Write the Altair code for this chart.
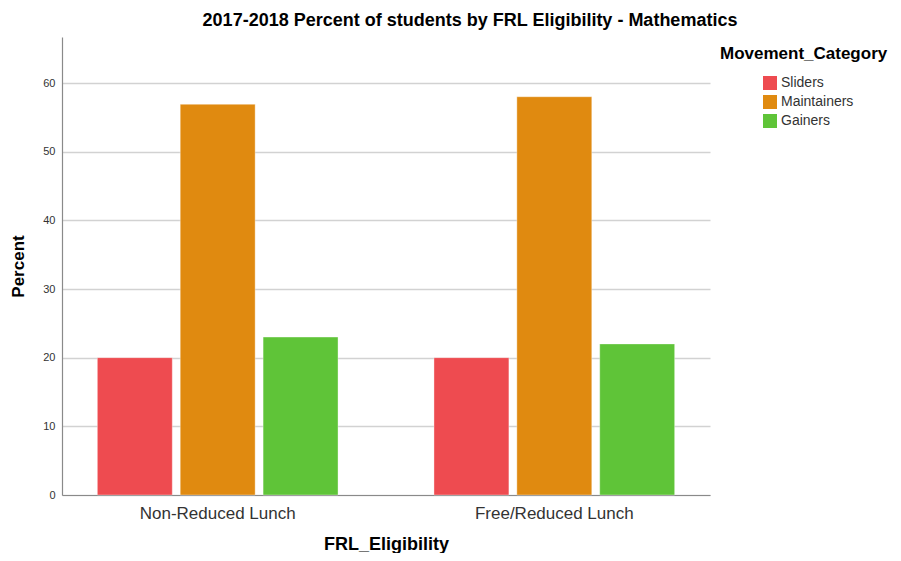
import altair as alt
import pandas as pd

groups = ["Non-Reduced Lunch", "Free/Reduced Lunch"]
series = ["Sliders", "Maintainers", "Gainers"]
non_reduced = [20.0, 56.9, 23.0]
free_reduced = [20.0, 58.0, 22.0]
colors = ["#EE4B50", "#E08A10", "#5FC438"]

rows = []
for g, vals in zip(groups, [non_reduced, free_reduced]):
    for s, v in zip(series, vals):
        rows.append({"FRL_Eligibility": g, "Movement_Category": s, "Percent": v})
df = pd.DataFrame(rows)

FONT = "Liberation Sans"

bars = alt.Chart(df).mark_bar(stroke="#ffffff", strokeWidth=0.6, strokeOpacity=0.6).encode(
    x=alt.X("FRL_Eligibility:N", sort=groups,
            scale=alt.Scale(paddingInner=0.285, paddingOuter=0.105),
            axis=alt.Axis(title="FRL_Eligibility", labelAngle=0, labelFontSize=17,
                          labelColor="#333333", labelPadding=10, ticks=False,
                          domainColor="#8a8a8a", domainWidth=1.2,
                          titleFontSize=18, titleFontWeight="bold", titlePadding=14,
                          titleColor="#000000")),
    xOffset=alt.XOffset("Movement_Category:N", sort=series,
                        scale=alt.Scale(paddingInner=0.096, paddingOuter=0)),
    y=alt.Y("Percent:Q",
            scale=alt.Scale(domain=[0, 66.7], nice=False, zero=True),
            axis=alt.Axis(title="Percent", values=[0, 10, 20, 30, 40, 50, 60],
                          labelFontSize=11, labelColor="#333333", labelPadding=7,
                          ticks=False, grid=True, gridColor="#d2d2d2", gridWidth=1.5,
                          domainColor="#8a8a8a", domainWidth=1.2,
                          titleFontSize=17, titleFontWeight="bold", titlePadding=15,
                          titleColor="#000000")),
    color=alt.Color("Movement_Category:N", sort=series,
                    scale=alt.Scale(domain=series, range=colors),
                    legend=alt.Legend(title="Movement_Category", orient="none",
                                      legendX=658, legendY=9,
                                      titleFontSize=17, titleFontWeight="bold",
                                      titleColor="#000000", titlePadding=13,
                                      labelFontSize=14, labelColor="#333333",
                                      symbolType="square", symbolSize=196,
                                      symbolStrokeWidth=0, symbolOffset=43,
                                      rowPadding=5, labelOffset=4)),
)

chart = bars.properties(
    width=648,
    height=458,
    padding={"left": 54, "top": 29, "right": 183, "bottom": 58},
    autosize=alt.AutoSizeParams(type="none"),
    title=alt.TitleParams("2017-2018 Percent of students by FRL Eligibility - Mathematics",
                          fontSize=18, fontWeight="bold", color="#000000",
                          anchor="middle", dx=84, offset=7),
).configure(font=FONT).configure_view(stroke=None)

chart.save("out.html", embed_options={"renderer": "svg", "actions": False})
